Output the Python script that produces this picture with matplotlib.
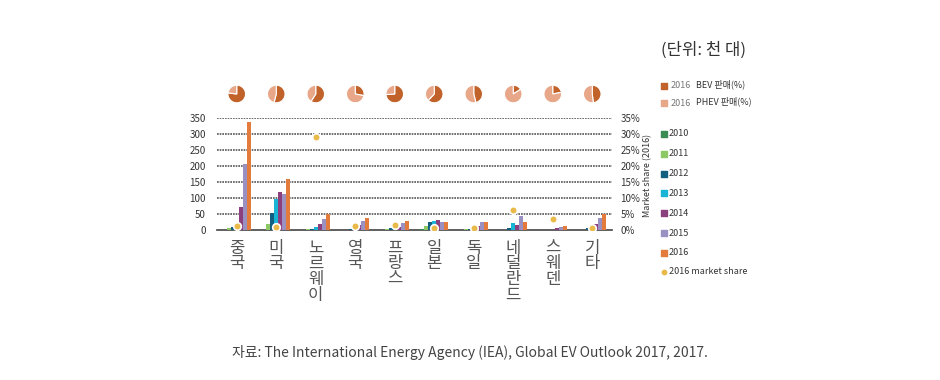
import numpy as np
import matplotlib
matplotlib.use('Agg')
import matplotlib.pyplot as plt
from matplotlib.ticker import FuncFormatter

plt.rcParams['font.family'] = ['Noto Sans CJK KR', 'DejaVu Sans']

# data (thousand vehicles)
countries = ['중국', '미국', '노르웨이', '영국', '프랑스', '일본', '독일', '네덜란드', '스웨덴', '기타']
years = ['2010', '2011', '2012', '2013', '2014', '2015', '2016']
sales_2010 = [1.4, 1.2, 0.4, 0.2, 0.3, 2.4, 0.3, 0.1, 0.0, 0.3]
sales_2011 = [5.0, 17.7, 2.0, 1.4, 2.6, 12.6, 2.2, 0.9, 0.2, 1.5]
sales_2012 = [9.9, 53.2, 4.6, 2.6, 5.7, 24.4, 3.1, 5.2, 1.0, 7.0]
sales_2013 = [15.0, 97.1, 8.2, 3.8, 8.8, 29.1, 7.4, 22.4, 1.5, 3.5]
sales_2014 = [73.2, 118.8, 19.8, 14.7, 10.6, 32.4, 12.4, 15.1, 4.7, 18.0]
sales_2015 = [207.4, 114.0, 34.5, 28.2, 22.9, 24.7, 24.0, 43.8, 8.6, 38.0]
sales_2016 = [336.0, 159.6, 50.2, 37.9, 29.3, 24.9, 24.6, 24.6, 13.4, 51.0]
share_2016 = [1.4, 0.9, 29.0, 1.4, 1.5, 0.6, 0.7, 6.4, 3.4, 0.5]   # %
bev_pct = [77, 54, 59, 28, 74, 62, 46, 16, 22, 48]                 # % of 2016 sales
phev_pct = [100 - b for b in bev_pct]

colors = ['#3a8c52', '#8cc864', '#135f80', '#17b4d6', '#8c3f7e', '#9a90c2', '#e27b3c']
share_color = '#e9b949'
bev_color = '#c0622a'
phev_color = '#e8a788'
txt = '#333333'

W, H = 940, 380
fig = plt.figure(figsize=(W / 100, H / 100), dpi=100)


def px(x0, y0, x1, y1):
    return [x0 / W, 1 - y1 / H, (x1 - x0) / W, (y1 - y0) / H]


ax = fig.add_axes(px(217, 118, 612, 230))
series = [sales_2010, sales_2011, sales_2012, sales_2013, sales_2014, sales_2015, sales_2016]
x = np.arange(len(countries))
bw = 0.1
for k, (vals, c) in enumerate(zip(series, colors)):
    ax.bar(x + (k - 3) * bw, vals, width=bw, color=c, linewidth=0, zorder=3)

ax.set_xlim(-0.5, len(countries) - 0.5)
ax.set_ylim(0, 350)
ax.set_yticks(range(0, 351, 50))
for y in range(50, 351, 50):
    ax.axhline(y, color='#555555', linestyle=(0, (1, 0.6)), linewidth=1.2, zorder=1)
for s in ['top', 'right', 'left']:
    ax.spines[s].set_visible(False)
ax.spines['bottom'].set_color('#444444')
ax.spines['bottom'].set_linewidth(1.2)
ax.tick_params(axis='y', length=0, labelsize=7, colors=txt, pad=8)
ax.set_xticks(x)
ax.set_xticklabels(['\n'.join(c) for c in countries], fontsize=12, color='#555555',
                   linespacing=0.9, va='top')
ax.tick_params(axis='x', length=0, pad=7)

ax2 = ax.twinx()
ax2.set_ylim(0, 35)
ax2.set_yticks(range(0, 36, 5))
ax2.yaxis.set_major_formatter(FuncFormatter(lambda v, _: f'{int(v)}%'))
ax2.tick_params(axis='y', length=0, labelsize=7, colors=txt, pad=6)
for s in ax2.spines.values():
    s.set_visible(False)
ax2.scatter(x, share_2016, s=30, color=share_color, edgecolor='white', linewidth=1.2, zorder=5)
fig.text(648 / W, 1 - 175 / H, 'Market share (2016)', fontsize=6.5, color=txt,
         rotation=90, ha='center', va='center')

# pies above groups
for i in range(len(countries)):
    cx = 217 + (612 - 217) * (i + 0.5) / len(countries)
    pa = fig.add_axes(px(cx - 11, 83, cx + 11, 105))
    pa.pie([bev_pct[i], phev_pct[i]], colors=[bev_color, phev_color], startangle=90,
           counterclock=False, wedgeprops=dict(edgecolor='white', linewidth=0.8))
    pa.set_aspect('equal')

# legend area
fig.text(661 / W, 1 - 50 / H, '(단위: 천 대)', fontsize=12, color=txt, va='center')
lg = fig.add_axes([0, 0, 1, 1], facecolor='none')
lg.set_xlim(0, W)
lg.set_ylim(H, 0)
lg.axis('off')
for yy, c, lab in [(86, bev_color, 'BEV 판매(%)'), (103, phev_color, 'PHEV 판매(%)')]:
    lg.scatter([664], [yy], marker='s', s=14, color=c)
    lg.text(671, yy, '2016', fontsize=6.5, color='#777777', va='center')
    lg.text(696, yy - 2, lab, fontsize=6.5, color=txt, va='center')
for k, (yr, c) in enumerate(zip(years, colors)):
    yy = 134 + k * 19.8
    lg.scatter([664], [yy], marker='s', s=22, color=c)
    lg.text(669, yy, yr, fontsize=6.5, color=txt, va='center')
lg.scatter([664], [272], marker='o', s=10, color=share_color)
lg.text(669, 272, '2016 market share', fontsize=6.5, color=txt, va='center')

fig.text(470 / W, 1 - 352 / H,
         '자료: The International Energy Agency (IEA), Global EV Outlook 2017, 2017.',
         fontsize=10, color='#444444', ha='center', va='center')

fig.savefig('out.png', dpi=100)
